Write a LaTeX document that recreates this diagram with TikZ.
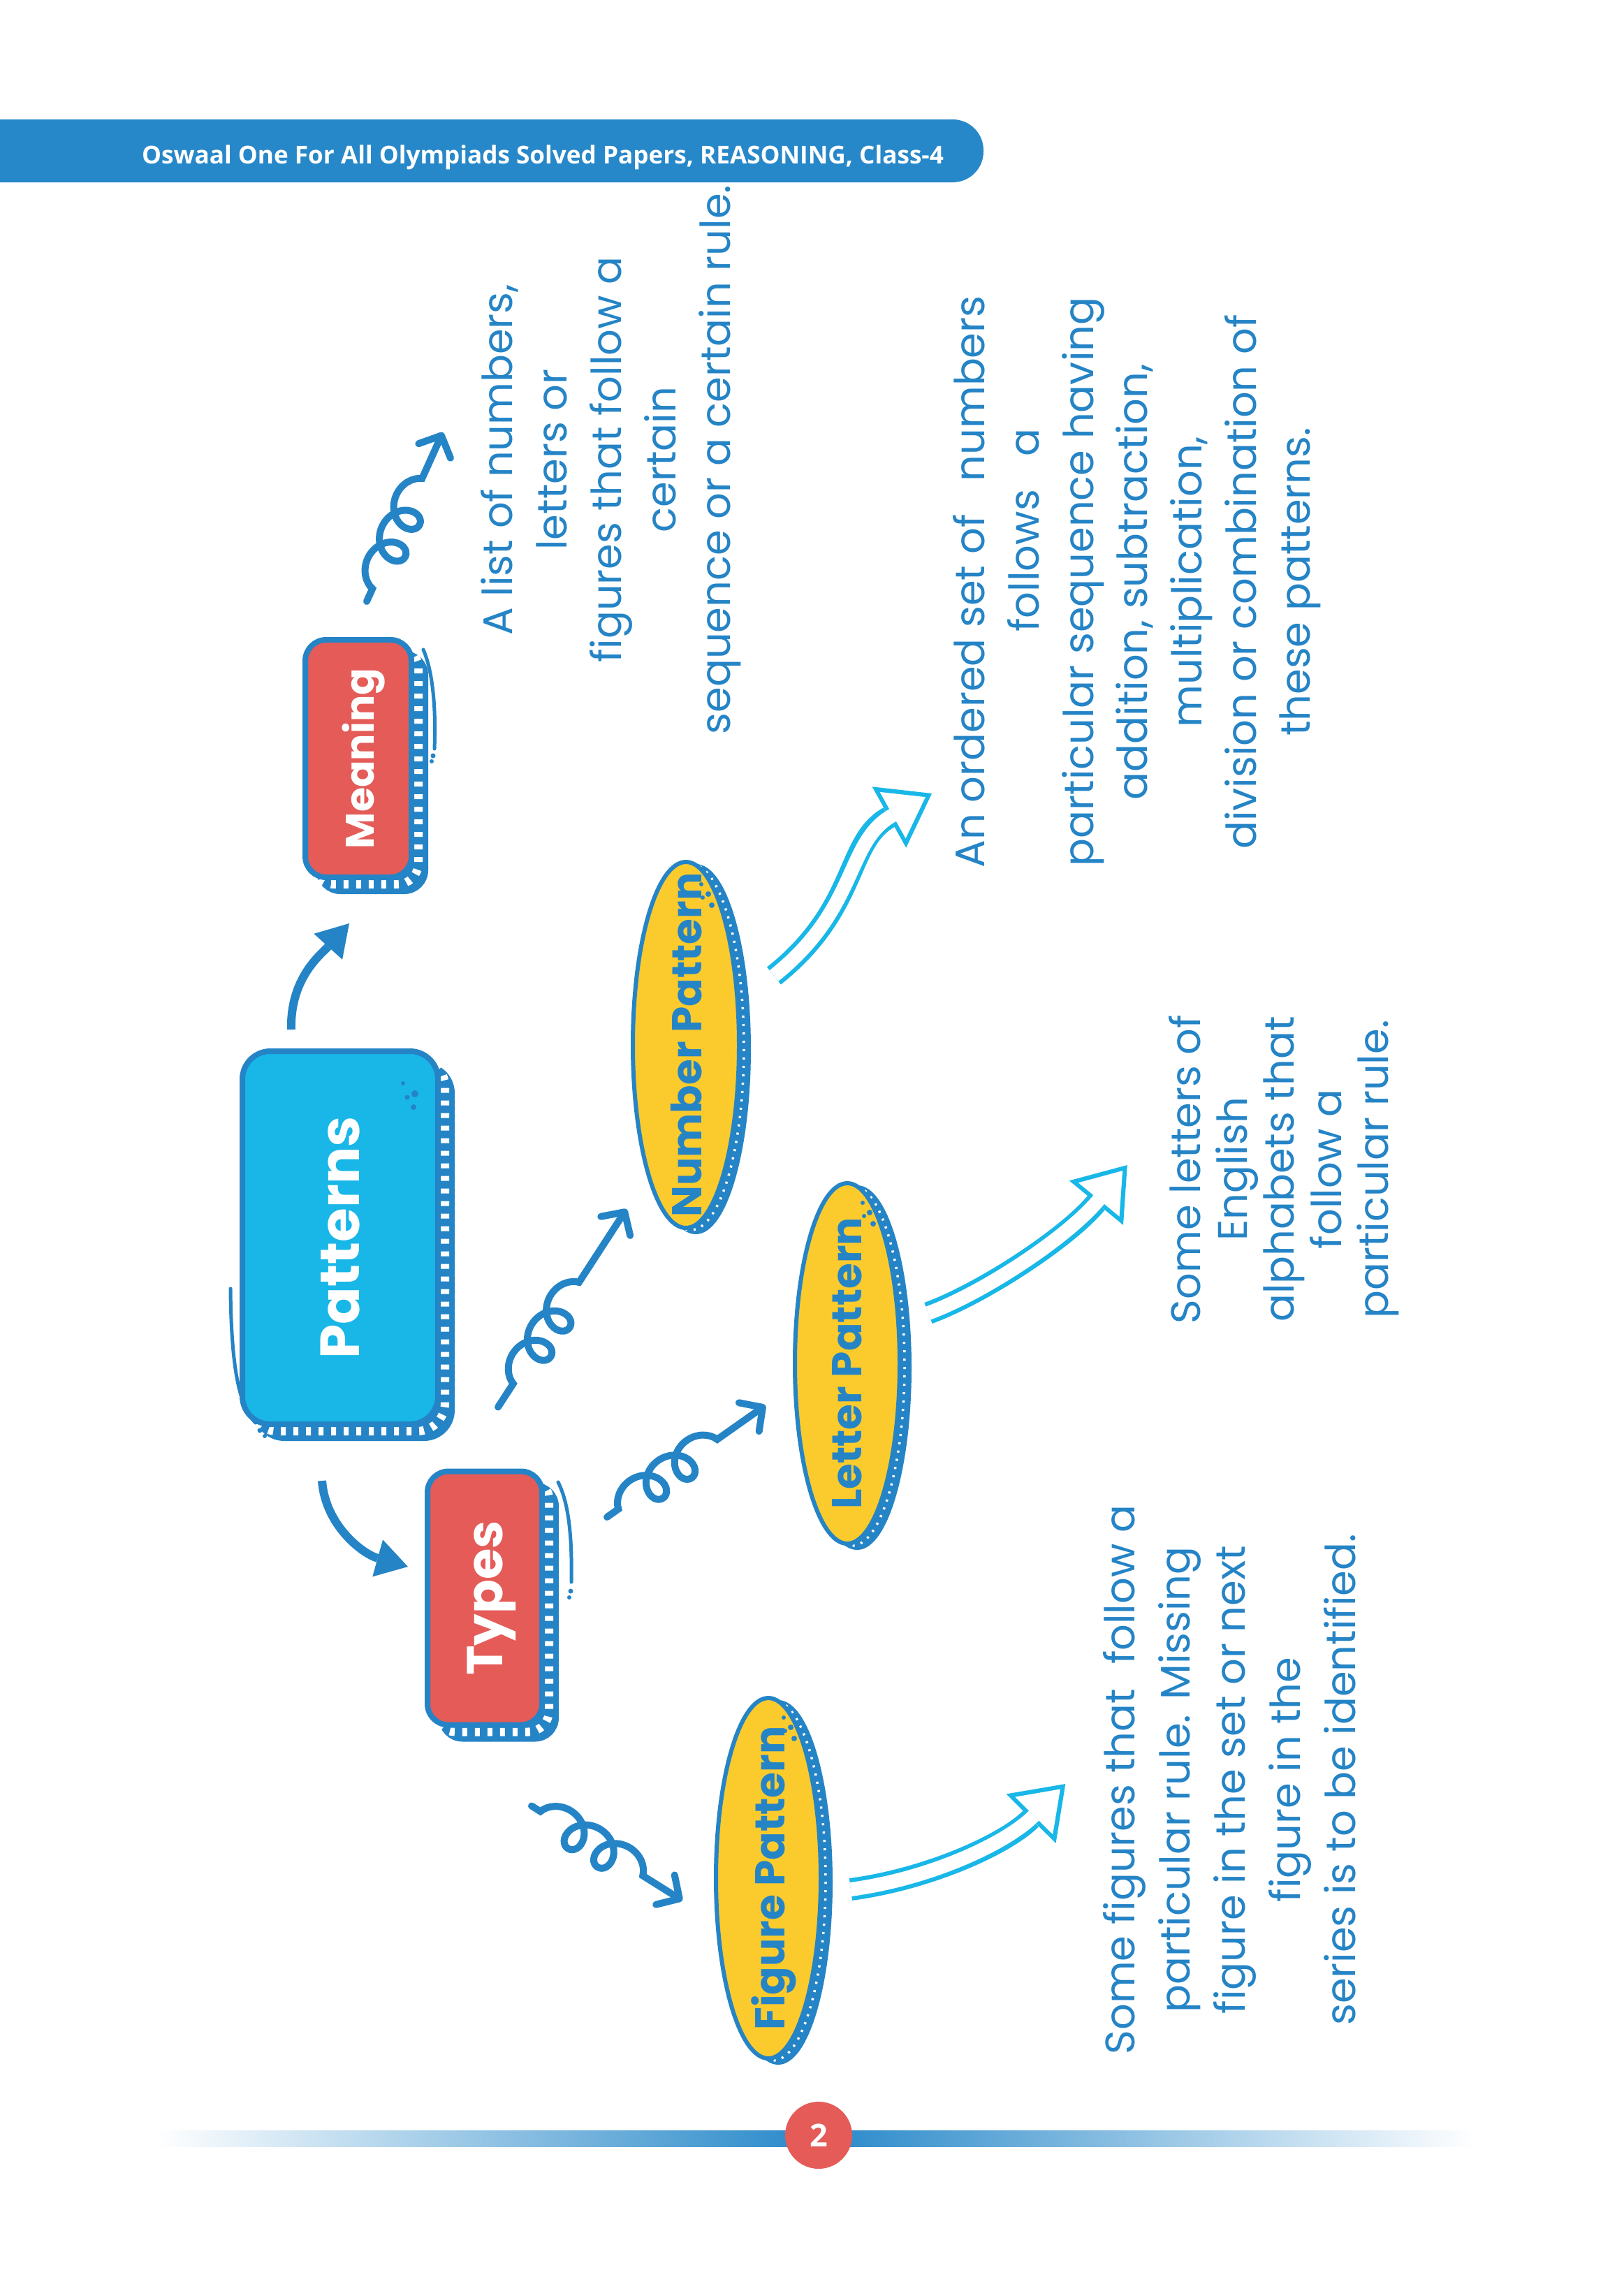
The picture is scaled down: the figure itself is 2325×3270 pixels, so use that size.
\documentclass[tikz,border=0pt]{standalone}
\usepackage{fontspec}
\setmainfont{Poppins}
\newfontfamily\headfont{Open Sans}
\usetikzlibrary{arrows.meta,calc,shapes.geometric,shadows,decorations.pathmorphing}
\definecolor{dblue}{RGB}{37,132,198}
\definecolor{pcyan}{RGB}{24,183,232}
\definecolor{pred}{RGB}{228,91,88}
\definecolor{pyellow}{RGB}{251,203,46}
\definecolor{hblue}{RGB}{39,136,201}
\newcommand{\fsz}[2]{\fontsize{#1pt}{#2pt}\selectfont}
\newcommand{\bubbledots}[1]{\fill[dblue] ($(#1.center)+(22,-230)$) circle (0.3mm) ($(#1.center)+(24,-211)$) circle (0.3mm) ($(#1.center)+(32,-216)$) circle (0.4mm) ($(#1.center)+(37,-200)$) circle (0.4mm);}
\tikzset{
  topicbox/.style={rectangle, rounded corners=3mm, draw=dblue, line width=0.8mm,
    text=white, inner sep=0pt, text depth=0pt, rotate=90,
    copy shadow={shadow xshift=2mm, shadow yshift=-2mm, fill=dblue, draw=dblue},
    copy shadow={shadow xshift=1mm, shadow yshift=-1mm, fill=none, draw=white,
      line width=1.2mm, dash pattern=on 0.7mm off 1.1mm}},
  typebubble/.style={ellipse, fill=pyellow, draw=dblue, line width=0.6mm,
    text=dblue, inner sep=0pt, text depth=0pt, rotate=90,
    font=\bfseries\fsz{17}{20}, minimum width=51.6mm, minimum height=15mm,
    copy shadow={shadow xshift=1.4mm, shadow yshift=-0.6mm, fill=dblue, draw=dblue},
    copy shadow={shadow xshift=0.7mm, shadow yshift=-0.3mm, fill=none, draw=white,
      line width=0.35mm, dash pattern=on 0.3mm off 0.9mm}},
  desc/.style={text=dblue, align=center, inner sep=0pt, rotate=90},
  thickarr/.style={dblue, line width=1.2mm, -{Triangle[length=4.5mm,width=5.5mm,line width=0pt]}},
  curlyarr/.style={dblue, line width=1mm, line cap=round,
    -{Straight Barb[round,length=2.4mm,width=5mm]}, decorate,
    decoration={coil, aspect=1, amplitude=2.4mm, segment length=5mm, #1}},
  hollowarr/.style={pcyan, line width=3.2mm, -{Triangle[length=7mm,width=10mm,line width=0pt]},
    postaction={draw=white, line width=2mm, shorten >=1.05mm,
      -{Triangle[length=5.35mm,width=7.6mm,line width=0pt]}}},
  sketch/.style={dblue, line width=0.5mm, line cap=round},
}
\begin{document}
\begin{tikzpicture}[x=0.1mm,y=-0.1mm]
\useasboundingbox (0,0) rectangle (2325,3270);
\fill[hblue, rounded corners=4.4mm] (-100,171) rectangle (1408,261);
\node[text=white, font=\headfont\bfseries\fsz{10}{12}, anchor=base] (hdr) at (777,234) {Oswaal One For All Olympiads Solved Papers, REASONING, Class-4};

\node[topicbox, fill=pcyan, rounded corners=4mm, minimum width=53.4mm, minimum height=28mm, font=\bfseries\fsz{22.5}{26}] (pat) at (487,1772) {Patterns};
\node[topicbox, fill=pred, minimum width=34mm, minimum height=15.2mm, font=\bfseries\fsz{16.2}{19}] (mean) at (513,1086) {Meaning};
\node[topicbox, fill=pred, minimum width=36.3mm, minimum height=16.4mm, font=\bfseries\fsz{20.5}{24}] (types) at (694,2288) {Types};
\node[typebubble, minimum width=52.4mm, minimum height=15.2mm] (numpat) at (982,1496) {\makebox[0pt]{Number Pattern}};
\node[typebubble] (letpat) at (1213,1952) {\makebox[0pt]{Letter Pattern}};
\node[typebubble] (figpat) at (1100,2689) {\makebox[0pt]{Figure Pattern}};

\fill[dblue] (577,1551) circle (0.3mm) (594,1566) circle (0.5mm) (583,1571) circle (0.35mm) (592,1585) circle (0.4mm);
\draw[sketch] (330,1845) .. controls (331,1960) and (343,2015) .. (366,2037);
\fill[dblue] (372,2048) circle (0.35mm) (379,2056) circle (0.3mm);
\draw[sketch] (606,930) .. controls (621,965) and (624,1020) .. (622,1072);
\fill[dblue] (620,1082) circle (0.35mm) (618,1090) circle (0.3mm);
\draw[sketch] (799,2122) .. controls (816,2155) and (819,2210) .. (818,2265);
\fill[dblue] (817,2278) circle (0.35mm) (815,2287) circle (0.3mm);
\bubbledots{numpat}
\bubbledots{letpat}
\bubbledots{figpat}

\node[desc, font=\fsz{16.8}{22.2}] (mdesc) at (875,658) {A list of numbers,\\letters or\\figures that follow a\\certain\\sequence or a certain rule.};
\node[desc, font=\fsz{16.8}{22.1}] (ndesc) at (1628,833) {An ordered set of\hspace{0.8em}numbers\\\hspace*{2.5em}follows\hspace{0.8em}a\\particular sequence having\\addition, subtraction,\\multiplication,\\division or combination of\\these patterns.};
\node[desc, font=\fsz{16.8}{19.1}] (ldesc) at (1838,1674) {Some letters of\\English\\alphabets that\\follow a\\particular rule.};
\node[desc, font=\fsz{16.8}{22.5}] (fdesc) at (1760,2548) {Some figures that\hspace{0.6em}follow a\\particular rule. Missing\\figure in the set or next\\figure in the\\series is to be identified.};

\draw[thickarr] ($(pat.east)+(-70,-27)$) .. controls (415,1400) and (460,1366) .. ($(mean.west)+(-13,62)$);
\draw[thickarr] ($(pat.west)+(-26,77)$) .. controls (466,2185) and (520,2225) .. ($(types.north)+(-24,-45)$);
\draw[curlyarr={pre length=2mm, post length=7mm}] ($(mean.east)+(12,-51)$) -- ($(mdesc.north)+(-54,-39)$);
\draw[curlyarr={pre length=4mm, post length=12mm}] ($(types.east)+(19,-88)$) -- ($(numpat.north)+(-6,235)$);
\draw[curlyarr={pre length=2mm, post length=8mm}] ($(types.south)+(89,-116)$) -- ($(letpat.north)+(-39,60)$);
\draw[curlyarr={pre length=1.5mm, post length=6.5mm}] ($(types.west)+(67,112)$) -- ($(figpat.north)+(-45,32)$);
\draw[hollowarr] ($(numpat.south)+(47,-99)$) .. controls (1230,1300) and (1210,1205) .. ($(ndesc.north)+(-30,303)$);
\draw[hollowarr] ($(letpat.south)+(38,-72)$) .. controls (1410,1850) and (1530,1770) .. ($(ldesc.north)+(-59,-6)$);
\draw[hollowarr] ($(figpat.south)+(40,16)$) .. controls (1330,2690) and (1440,2640) .. ($(fdesc.north)+(-53,6)$);

\shade[left color=white, right color=hblue] (225,3050) rectangle (1172,3073);
\shade[left color=hblue, right color=white] (1172,3050) rectangle (2112,3073);
\node[circle, fill=pred, minimum size=9.6mm, inner sep=0pt, text=white, font=\headfont\bfseries\fsz{12.8}{14}] (pgno) at (1172,3057) {2};
\end{tikzpicture}
\end{document}
